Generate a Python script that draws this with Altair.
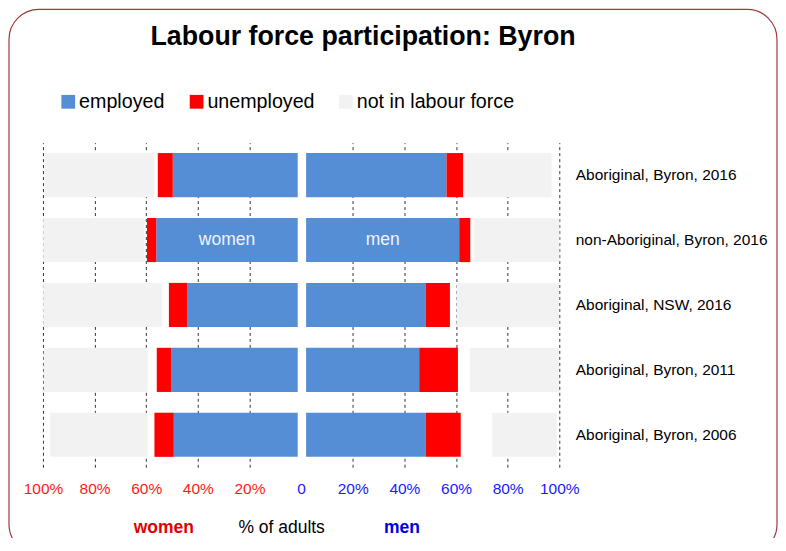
import altair as alt
import pandas as pd

rows = ["Aboriginal, Byron, 2016", "non-Aboriginal, Byron, 2016", "Aboriginal, NSW, 2016",
        "Aboriginal, Byron, 2011", "Aboriginal, Byron, 2006"]
statuses = ["employed", "unemployed", "not stated", "not in labour force"]

women_employed = [48.4, 54.8, 42.7, 48.9, 48.0]
women_unemployed = [5.8, 3.6, 7.2, 5.7, 7.5]
women_not_stated = [1.3, 0.9, 2.6, 3.5, 2.6]
women_nilf = [42.6, 39.3, 46.1, 40.3, 37.8]

men_employed = [54.4, 59.3, 46.4, 43.8, 46.4]
men_unemployed = [6.5, 4.3, 9.3, 15.0, 13.5]
men_not_stated = [0.0, 1.3, 2.6, 4.6, 12.2]
men_nilf = [34.2, 33.2, 39.7, 34.5, 25.0]

x_ticks = [-100, -80, -60, -40, -20, 0, 20, 40, 60, 80, 100]

recs = []
for sex, series in [("women", [women_employed, women_unemployed, women_not_stated, women_nilf]),
                    ("men", [men_employed, men_unemployed, men_not_stated, men_nilf])]:
    for k, (st, vals) in enumerate(zip(statuses, series)):
        for r, v in zip(rows, vals):
            recs.append({"sex": sex, "row": r, "status": st, "k": k, "v": v})
df = pd.DataFrame(recs)

FONT = "Liberation Sans, Arial, sans-serif"

color_scale = alt.Scale(domain=["employed", "unemployed", "not in labour force", "not stated"],
                        range=["#558ED5", "#FF0000", "#F2F2F2", "rgba(0,0,0,0)"])

x_enc_axis = alt.Axis(values=x_ticks, title=None, domain=False, ticks=False, tickSize=0,
                      labelExpr="datum.value == 0 ? '0' : abs(datum.value) + '%'",
                      labelColor={"condition": {"test": "datum.value < 0", "value": "#FF1A1A"}, "value": "#1A1AFF"},
                      labelFontSize=15.5, labelFont=FONT, labelPadding=14,
                      labelOverlap=False, labelBound=False, labelFlush=False,
                      grid=True, gridDash=[3, 3], gridColor="#333333", gridWidth=1,
                      gridOpacity={"condition": {"test": "datum.value == 0", "value": 0}, "value": 1})

y_enc = alt.Y("row:N", sort=rows, title=None,
              scale=alt.Scale(paddingInner=0.32, paddingOuter=0.16),
              axis=alt.Axis(orient="right", domain=False, ticks=False, tickSize=0, labelPadding=16,
                            labelAlign="left", labelFontSize=15.5, labelFont=FONT, labelColor="black",
                            labelLimit=400))

base = alt.Chart(df).transform_calculate(
    val="datum.sex == 'women' ? -datum.v : datum.v"
)

def bars(sex, off):
    return base.transform_filter(alt.datum.sex == sex).mark_bar(xOffset=off).encode(
        x=alt.X("val:Q", stack="zero", scale=alt.Scale(domain=[-100, 100], nice=False), axis=x_enc_axis),
        y=y_enc,
        color=alt.Color("status:N", scale=color_scale,
                        legend=alt.Legend(values=["employed", "unemployed", "not in labour force"],
                                          title=None, orient="none", legendX=15.5, legendY=-51,
                                          direction="horizontal", symbolType="square", symbolSize=190,
                                          symbolStrokeWidth=0, labelFontSize=19.7, labelFont=FONT,
                                          labelOffset=1, columnPadding=21.5, padding=0,
                                          labelColor="black", labelLimit=400)),
        order=alt.Order("k:Q", sort="ascending"),
    )

women_bars = bars("women", -3.4)
men_bars = bars("men", 5)

def inner_label(sex, off):
    return base.transform_filter(
        (alt.datum.sex == sex) & (alt.datum.status == "employed") & (alt.datum.row == rows[1])
    ).transform_calculate(xm="datum.val / 2").mark_text(
        xOffset=off, color="#EEF3FB", fontSize=17.5, font=FONT
    ).encode(x="xm:Q", y=alt.Y("row:N", sort=rows), text="sex:N")

women_lbl = inner_label("women", -3.4)
men_lbl = inner_label("men", 5)

title = alt.Chart(pd.DataFrame({"t": ["Labour force participation: Byron"]})).mark_text(
    fontSize=26.8, fontWeight="bold", font=FONT, color="black", align="center", baseline="middle"
).encode(x=alt.value(320.5), y=alt.value(-105.5), text="t:N")

bottom_w = alt.Chart(pd.DataFrame({"t": ["women"]})).mark_text(
    fontSize=17.5, fontWeight="bold", font=FONT, color="#E00000").encode(
    x=alt.value(121), y=alt.value(385.5), text="t:N")
bottom_m = alt.Chart(pd.DataFrame({"t": ["% of adults"]})).mark_text(
    fontSize=17.5, font=FONT, color="#000000").encode(
    x=alt.value(239), y=alt.value(385.5), text="t:N")
bottom_men = alt.Chart(pd.DataFrame({"t": ["men"]})).mark_text(
    fontSize=17.5, fontWeight="bold", font=FONT, color="#0000DD").encode(
    x=alt.value(359.5), y=alt.value(385.5), text="t:N")

frame = alt.Chart(pd.DataFrame({"f": [1]})).mark_rect(
    fillOpacity=0, stroke="#9E3A3A", strokeWidth=1.2, cornerRadius=30
).encode(x=alt.value(-34), x2=alt.value(735), y=alt.value(-133.5), y2=alt.value(412))

chart = alt.layer(frame, women_bars, men_bars, women_lbl, men_lbl, title,
                  bottom_w, bottom_m, bottom_men).properties(
    width=517, height=325,
    autosize=alt.AutoSizeParams(type="none"),
    padding={"left": 35, "top": 134.5, "right": 219, "bottom": 70.5},
).configure_view(stroke=None)

chart.save("out.html", embed_options={"renderer": "svg", "actions": False})
